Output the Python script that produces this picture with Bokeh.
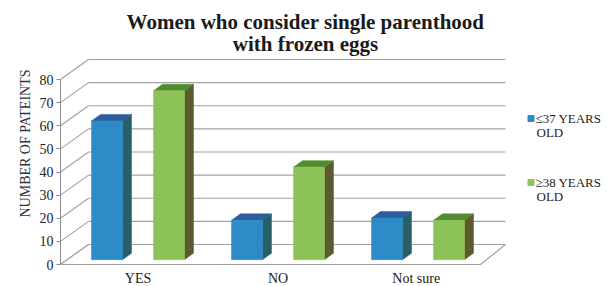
from bokeh.plotting import figure
from bokeh.models import Range1d, FixedTicker
from bokeh.core.properties import value
from bokeh.embed import file_html
from bokeh.resources import INLINE

# ---------------- data ----------------
categories = ["YES", "NO", "Not  sure"]
le37 = [60, 17, 18]
ge38 = [73, 40, 17]
series_labels = [["\u226437 YEARS", "OLD"], ["\u226538 YEARS", "OLD"]]
y_ticks = [0, 10, 20, 30, 40, 50, 60, 70, 80]
title_lines = ["Women who consider single parenthood", "with frozen eggs"]
y_label = "NUMBER OF PATEINTS"

# ---------------- styling / geometry ----------------
FRONT = ["#2D8BC8", "#8CC257"]
SIDE = ["#295F69", "#5D5B2E"]
TOP = ["#2C5D9C", "#4F8D2D"]
GRID = "#A3A3A3"
SERIF = "Liberation Serif"

W, H = 616, 286
PX_PER_CAT = 140.0
PX_PER_VAL = 2.3125
CAT0_SX = 137.5   # canvas x of first category centre
ZERO_SY = 264.0   # canvas y of value 0 on the front edge
FRAME_L, FRAME_R, FRAME_T, FRAME_B = 60, W, 0, H


def u(sx):
    return (sx - CAT0_SX) / PX_PER_CAT


def v(sy):
    return (ZERO_SY - sy) / PX_PER_VAL


DX = 28 / PX_PER_CAT          # depth of the floor / walls
DY = 20 / PX_PER_VAL
BDX = 9 / PX_PER_CAT          # depth of a bar
BDY = 6.5 / PX_PER_VAL
BASE = 2.1                    # bars stand a little behind the front edge
IN_OFF = 15.5 / PX_PER_CAT
OUT_OFF = 46.5 / PX_PER_CAT
WALL_L = u(FRAME_L)
FLOOR_R = u(480)
WALL_R = u(505)

p = figure(width=W, height=H,
           x_range=Range1d(u(FRAME_L), u(FRAME_R)),
           y_range=Range1d(v(FRAME_B), v(FRAME_T)),
           output_backend="svg", toolbar_location=None,
           x_axis_location=None,
           min_border_left=FRAME_L, min_border_right=0,
           min_border_top=0, min_border_bottom=0)
p.outline_line_color = None
p.xgrid.visible = False
p.ygrid.visible = False
p.background_fill_color = "white"
p.border_fill_color = "white"

# y axis
ax = p.yaxis[0]
ax.ticker = FixedTicker(ticks=y_ticks)
ax.bounds = (y_ticks[0], y_ticks[-1])
ax.axis_line_color = "#8C8C8C"
ax.major_tick_line_color = "#8C8C8C"
ax.major_tick_out = 4
ax.major_tick_in = 0
ax.minor_tick_out = 0
ax.minor_tick_in = 0
ax.major_label_standoff = 3
ax.major_label_text_font = SERIF
ax.major_label_text_font_size = "14px"
ax.major_label_text_color = "#222222"
ax.axis_label = y_label
ax.axis_label_text_font = SERIF
ax.axis_label_text_font_style = "normal"
ax.axis_label_text_font_size = "14px"
ax.axis_label_text_color = "#333333"
ax.axis_label_standoff = 4

# walls: back gridlines and side diagonals
p.segment(x0=[WALL_L + DX] * len(y_ticks), y0=[t + DY for t in y_ticks],
          x1=[WALL_R] * len(y_ticks), y1=[t + DY for t in y_ticks],
          line_color=GRID, line_width=1.2)
p.segment(x0=[WALL_L] * len(y_ticks), y0=y_ticks,
          x1=[WALL_L + DX] * len(y_ticks), y1=[t + DY for t in y_ticks],
          line_color=GRID, line_width=1.2)
# floor
p.patch(x=[WALL_L, FLOOR_R, WALL_R, WALL_L + DX],
        y=[0, 0, DY, DY], fill_color="white", line_color=GRID, line_width=1.2)

# 3-D bars
for s, vals in enumerate([le37, ge38]):
    lefts, rights, sx, sy, tx, ty = [], [], [], [], [], []
    for i, val in enumerate(vals):
        if s == 0:
            xl, xr = i - OUT_OFF, i - IN_OFF
        else:
            xl, xr = i + IN_OFF, i + OUT_OFF
        lefts.append(xl)
        rights.append(xr)
        top = BASE + val
        sx.append([xr, xr + BDX, xr + BDX, xr])
        sy.append([BASE, BASE + BDY, top + BDY, top])
        tx.append([xl, xr, xr + BDX, xl + BDX])
        ty.append([top, top, top + BDY, top + BDY])
    p.patches(xs=sx, ys=sy, fill_color=SIDE[s], line_color=SIDE[s], line_width=0.5)
    p.patches(xs=tx, ys=ty, fill_color=TOP[s], line_color=TOP[s], line_width=0.5)
    p.quad(left=lefts, right=rights, bottom=[BASE] * len(vals),
           top=[BASE + val for val in vals],
           fill_color=FRONT[s], line_color=FRONT[s], line_width=0.5)

# category labels
p.text(x=list(range(len(categories))), y=[v(278)] * len(categories),
       text=categories, text_align="center", text_baseline="alphabetic",
       text_font=value(SERIF), text_font_size=value("14px"), text_color="#1A1A1A")

# legend
leg_y = [118, 182]
for s in range(2):
    p.scatter(x=[u(530.5)], y=[v(leg_y[s])], marker="square", size=6,
              fill_color=FRONT[s], line_color=FRONT[s])
    p.text(x=[u(535), u(536)], y=[v(leg_y[s]), v(leg_y[s] + 14)],
           text=series_labels[s], text_align="left", text_baseline="alphabetic",
           text_font=value(SERIF), text_font_size=value("13px"), text_color="#222222")

# title
p.text(x=[u(305), u(305)], y=[v(21), v(43)], text=title_lines,
       text_align="center", text_baseline="alphabetic",
       text_font=value(SERIF), text_font_style="bold",
       text_font_size=value("21px"), text_color="#1A1A1A")

open("out.html", "w").write(file_html(p, INLINE))
